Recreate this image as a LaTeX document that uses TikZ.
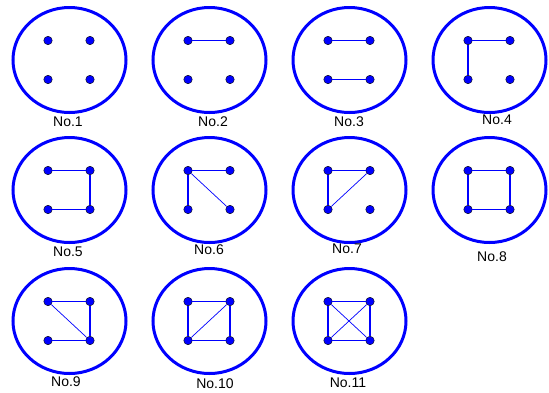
\documentclass[tikz,border=0pt]{standalone}
\usepackage{fontspec}
\setmainfont{Liberation Sans}
\begin{document}
\begin{tikzpicture}[x=1pt,y=-1pt,
  ring/.style={draw=blue,line width=3pt},
  dot/.style={circle,fill=blue,draw=black,line width=0.4pt,inner sep=0pt,minimum size=8.5pt},
  edge/.style={draw=blue,line width=1.1pt},
  diag/.style={draw=blue,line width=0.7pt},
  lab/.style={font=\fontsize{14}{16}\selectfont,inner sep=0pt}]
\useasboundingbox (0,0) rectangle (549,392);
% macro to place a graph
\newcommand{\mkgraph}[4]{%
  \draw[ring] (#2,#3) ellipse [x radius=56.5, y radius=52.5];
  \node[dot] (#1a) at (#2-21.5,#3-19.5) {};
  \node[dot] (#1b) at (#2+20.5,#3-19.5) {};
  \node[dot] (#1c) at (#2-21.5,#3+19.5) {};
  \node[dot] (#1d) at (#2+20.5,#3+19.5) {};
}
\mkgraph{g1}{69.5}{60}{}
\mkgraph{g2}{209.5}{60}{}
\mkgraph{g3}{349.5}{60}{}
\mkgraph{g4}{489.5}{60}{}
\mkgraph{g5}{69.5}{190}{}
\mkgraph{g6}{209.5}{190}{}
\mkgraph{g7}{349.5}{190}{}
\mkgraph{g8}{489.5}{190}{}
\mkgraph{g9}{69.5}{321}{}
\mkgraph{g10}{209.5}{321}{}
\mkgraph{g11}{349.5}{321}{}
% edges
\draw[edge] (g2a) -- (g2b);
\draw[edge] (g3a) -- (g3b); \draw[edge] (g3c) -- (g3d);
\draw[edge] (g4a) -- (g4b); \draw[edge] (g4a) -- (g4c);
\draw[edge] (g5a) -- (g5b); \draw[edge] (g5b) -- (g5d); \draw[edge] (g5c) -- (g5d);
\draw[edge] (g6a) -- (g6b); \draw[edge] (g6a) -- (g6c); \draw[diag] (g6a) -- (g6d);
\draw[edge] (g7a) -- (g7b); \draw[edge] (g7a) -- (g7c); \draw[diag] (g7c) -- (g7b);
\draw[edge] (g8a) -- (g8b); \draw[edge] (g8b) -- (g8d); \draw[edge] (g8d) -- (g8c); \draw[edge] (g8c) -- (g8a);
\draw[edge] (g9a) -- (g9b); \draw[edge] (g9b) -- (g9d); \draw[edge] (g9c) -- (g9d); \draw[diag] (g9a) -- (g9d);
\draw[edge] (g10a) -- (g10b); \draw[edge] (g10b) -- (g10d); \draw[edge] (g10d) -- (g10c); \draw[edge] (g10c) -- (g10a); \draw[diag] (g10c) -- (g10b);
\draw[edge] (g11a) -- (g11b); \draw[edge] (g11b) -- (g11d); \draw[edge] (g11d) -- (g11c); \draw[edge] (g11c) -- (g11a); \draw[diag] (g11c) -- (g11b); \draw[diag] (g11a) -- (g11d);
% labels
\node[lab] (l1) at (68,122) {No.1};
\node[lab] (l2) at (213,122) {No.2};
\node[lab] (l3) at (349,122) {No.3};
\node[lab] (l4) at (497,120) {No.4};
\node[lab] (l5) at (68,252) {No.5};
\node[lab] (l6) at (209,250) {No.6};
\node[lab] (l7) at (347,249) {No.7};
\node[lab] (l8) at (492,257) {No.8};
\node[lab] (l9) at (66,382) {No.9};
\node[lab] (l10) at (215,384) {No.10};
\node[lab] (l11) at (348,383) {No.11};
\end{tikzpicture}
\end{document}
